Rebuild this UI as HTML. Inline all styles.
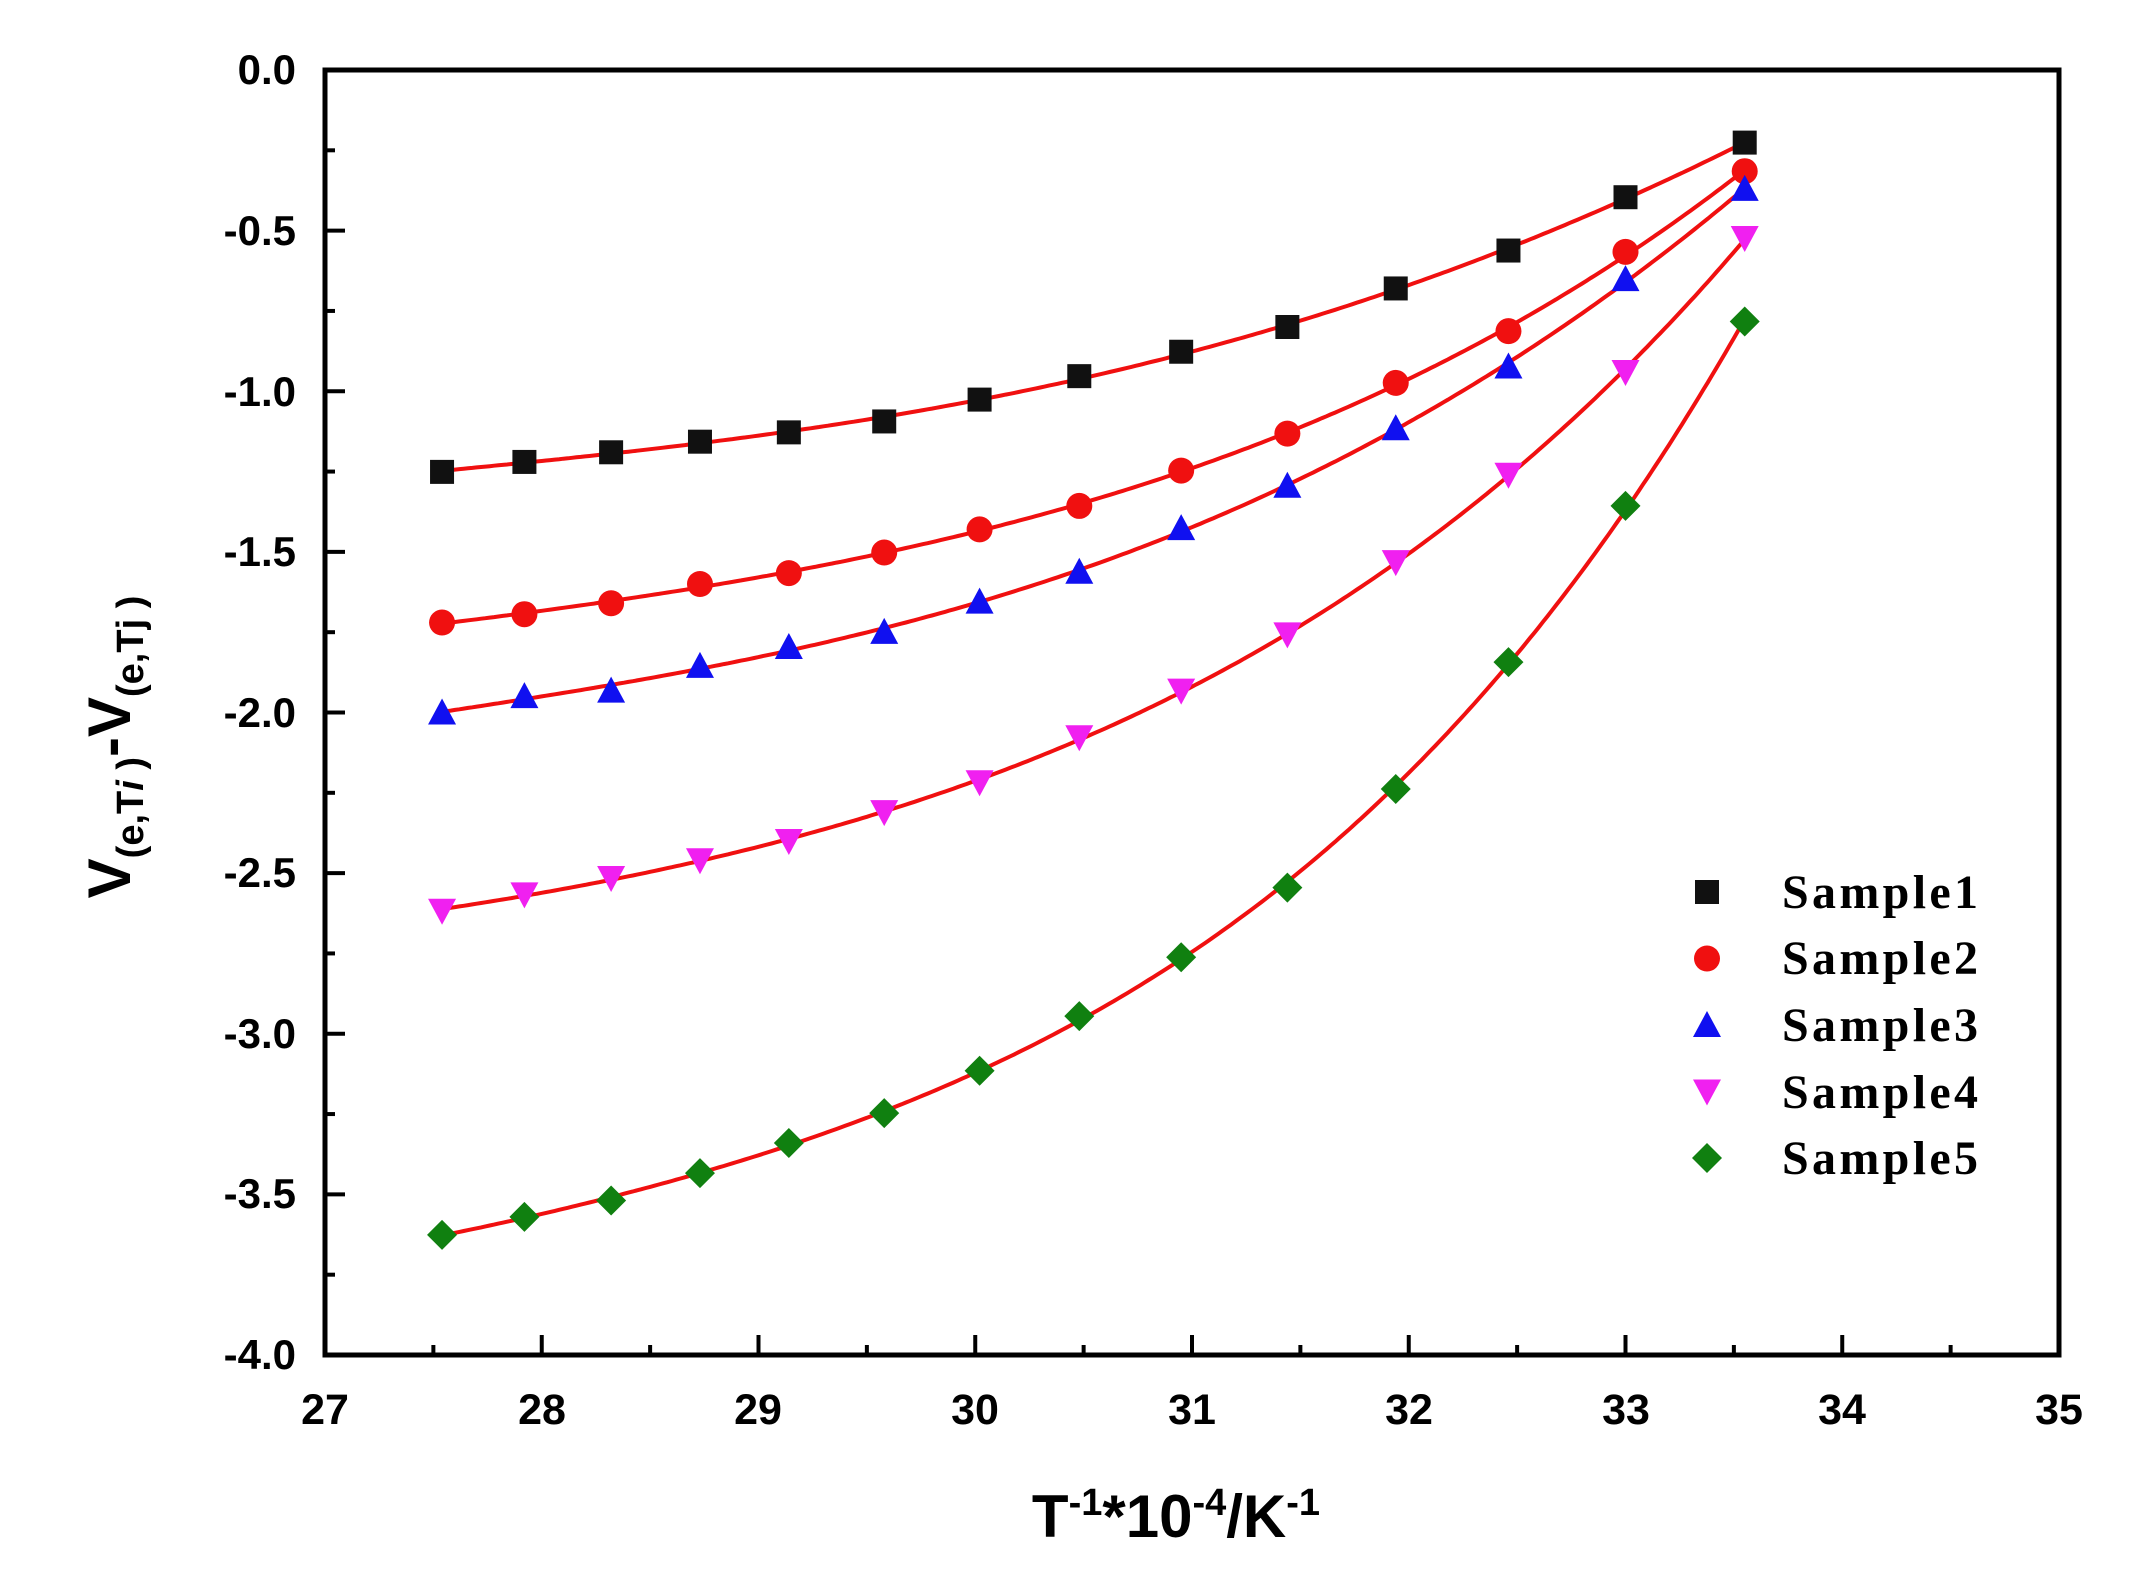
<!DOCTYPE html>
<html><head><meta charset="utf-8"><style>
html,body{margin:0;padding:0;background:#fff;}
svg{display:block;}
text{font-family:"Liberation Sans",sans-serif;font-weight:bold;}
</style></head><body>
<svg id="s" width="2150" height="1593" viewBox="0 0 2150 1593" xmlns="http://www.w3.org/2000/svg">
<rect width="2150" height="1593" fill="#fff"/>
<g id="ticks" stroke="#000" stroke-width="4"></g>
<g id="curves" fill="none" stroke="#f01010" stroke-width="4"></g>
<g id="marks"></g>
<rect x="325" y="70" width="1734" height="1285" fill="none" stroke="#000" stroke-width="5"/>
<g font-size="42" text-anchor="end">
<text x="296" y="84">0.0</text><text x="296" y="245">-0.5</text><text x="296" y="406">-1.0</text>
<text x="296" y="566">-1.5</text><text x="296" y="727">-2.0</text><text x="296" y="887">-2.5</text>
<text x="296" y="1048">-3.0</text><text x="296" y="1208">-3.5</text><text x="296" y="1369">-4.0</text>
</g>
<g font-size="43" text-anchor="middle">
<text x="325" y="1424">27</text><text x="542" y="1424">28</text><text x="758" y="1424">29</text>
<text x="975" y="1424">30</text><text x="1192" y="1424">31</text><text x="1409" y="1424">32</text>
<text x="1626" y="1424">33</text><text x="1842" y="1424">34</text><text x="2059" y="1424">35</text>
</g>
<text x="1176" y="1537" font-size="60" text-anchor="middle">T<tspan font-size="38" dy="-22">-1</tspan><tspan dy="22">*10</tspan><tspan font-size="38" dy="-22">-4</tspan><tspan dy="22">/K</tspan><tspan font-size="38" dy="-22">-1</tspan></text>
<text transform="translate(130,747) rotate(-90)" font-size="60" text-anchor="middle">V<tspan font-size="38" dy="13">(e,T<tspan font-style="italic">i</tspan> )</tspan><tspan dy="-13">-V</tspan><tspan font-size="38" dy="13">(e,Tj )</tspan></text>
<g font-size="48">
<text x="1782" y="908" textLength="196" style="font-family:'Liberation Serif',serif">Sample1</text>
<text x="1782" y="974" textLength="196" style="font-family:'Liberation Serif',serif">Sample2</text>
<text x="1782" y="1041" textLength="196" style="font-family:'Liberation Serif',serif">Sample3</text>
<text x="1782" y="1108" textLength="196" style="font-family:'Liberation Serif',serif">Sample4</text>
<text x="1782" y="1174" textLength="196" style="font-family:'Liberation Serif',serif">Sample5</text>
</g>
<g id="leg"></g>
</svg>
<script>
var NS="http://www.w3.org/2000/svg";
function X(x){return 325+(x-27)*216.75;}function Y(y){return 70-y*321.25;}
function el(p,t,a){var e=document.createElementNS(NS,t);for(var k in a)e.setAttribute(k,a[k]);document.getElementById(p).appendChild(e);return e;}
for(var i=0;i<=16;i++){var y=-i*0.25;el('ticks','line',{x1:325,x2:325+(i%2?10:20),y1:Y(y),y2:Y(y)});}
for(var i=0;i<=16;i++){var x=27+i*0.5;el('ticks','line',{y1:1355,y2:1355-(i%2?10:20),x1:X(x),x2:X(x)});}
var xs=[27.54,27.92,28.32,28.73,29.14,29.58,30.02,30.48,30.95,31.44,31.94,32.46,33.0,33.55];
var D=[
[-1.251,-1.22,-1.19,-1.157,-1.128,-1.094,-1.026,-0.953,-0.877,-0.8,-0.68,-0.562,-0.396,-0.226],
[-1.72,-1.694,-1.66,-1.6,-1.566,-1.502,-1.43,-1.357,-1.247,-1.132,-0.974,-0.813,-0.566,-0.315],
[-2.0,-1.949,-1.932,-1.855,-1.796,-1.749,-1.655,-1.562,-1.426,-1.294,-1.115,-0.923,-0.651,-0.37],
[-2.617,-2.566,-2.515,-2.46,-2.4,-2.31,-2.217,-2.077,-1.932,-1.757,-1.532,-1.26,-0.94,-0.523],
[-3.626,-3.57,-3.519,-3.434,-3.34,-3.247,-3.115,-2.945,-2.762,-2.545,-2.238,-1.843,-1.357,-0.783]];
var cols=['#111','#f01010','#1010f0','#f020f0','#108010'];
function marker(g,k,cx,cy){var r=12;
 if(k==0)el(g,'rect',{x:cx-r,y:cy-r,width:2*r,height:2*r,fill:cols[k]});
 else if(k==1)el(g,'circle',{cx:cx,cy:cy,r:r+1,fill:cols[k]});
 else if(k==2)el(g,'polygon',{points:(cx)+','+(cy-r-2)+' '+(cx+r+2)+','+(cy+r)+' '+(cx-r-2)+','+(cy+r),fill:cols[k]});
 else if(k==3)el(g,'polygon',{points:(cx)+','+(cy+r+2)+' '+(cx+r+2)+','+(cy-r)+' '+(cx-r-2)+','+(cy-r),fill:cols[k]});
 else el(g,'polygon',{points:cx+','+(cy-r-3)+' '+(cx+r+3)+','+cy+' '+cx+','+(cy+r+3)+' '+(cx-r-3)+','+cy,fill:cols[k]});}
function fit(ys,deg){var n=deg+1,A=[],b=[];for(var i=0;i<n;i++){A.push(new Array(n).fill(0));b.push(0);}
 xs.forEach(function(x,j){var t=(x-30.5)/3;for(var r=0;r<n;r++){b[r]+=Math.pow(t,r)*ys[j];for(var c=0;c<n;c++)A[r][c]+=Math.pow(t,r+c);}});
 for(var i=0;i<n;i++){for(var r=i+1;r<n;r++){var f=A[r][i]/A[i][i];for(var c=i;c<n;c++)A[r][c]-=f*A[i][c];b[r]-=f*b[i];}}
 var co=new Array(n).fill(0);for(var i=n-1;i>=0;i--){var s=b[i];for(var c=i+1;c<n;c++)s-=A[i][c]*co[c];co[i]=s/A[i][i];}
 return function(x){var t=(x-30.5)/3,s=0;for(var i=0;i<n;i++)s+=co[i]*Math.pow(t,i);return s;};}
D.forEach(function(ys,k){
 var f=fit(ys,4),d='';
 for(var x=xs[0];x<=xs[xs.length-1]+1e-9;x+=0.02){d+=(d?' L':'M')+X(x).toFixed(1)+','+Y(f(x)).toFixed(1);}
 el('curves','path',{d:d});
 xs.forEach(function(x,i){marker('marks',k,X(x),Y(ys[i]));});
 marker('leg',k,1707,892+k*66.5);
});
</script>
</body></html>
